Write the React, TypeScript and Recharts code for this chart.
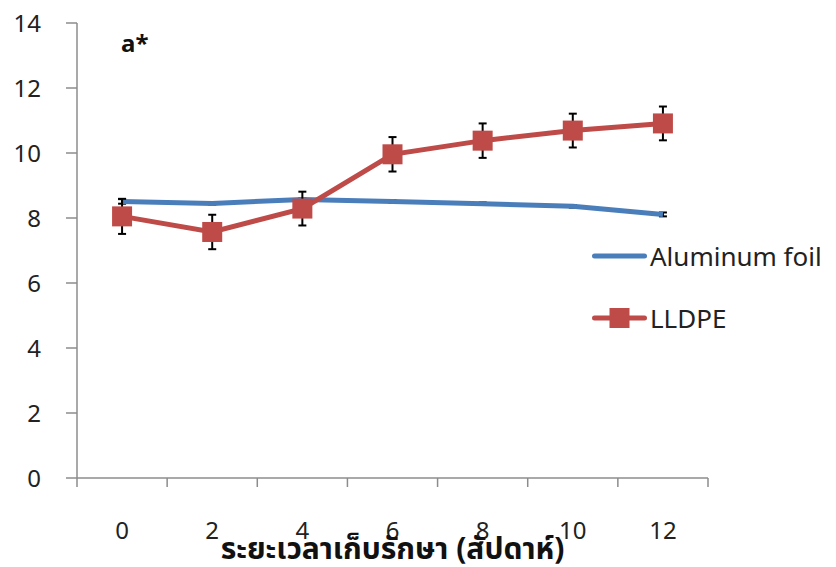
import React from 'react';
import { LineChart, Line, XAxis, YAxis, ErrorBar, Legend } from 'recharts';

const weeks = ['0', '2', '4', '6', '8', '10', '12'];
const aluminumFoil = [8.51, 8.45, 8.57, 8.51, 8.44, 8.36, 8.11];
const aluminumErr = [0.07, 0.04, 0.04, 0.04, 0.04, 0.04, 0.06];
const lldpe = [8.05, 7.57, 8.29, 9.96, 10.38, 10.69, 10.91];
const lldpeErr = [0.54, 0.53, 0.52, 0.53, 0.53, 0.52, 0.52];
const yTicks = [0, 2, 4, 6, 8, 10, 12, 14];

const seriesNames = ['Aluminum foil', 'LLDPE'];
const xTitle = 'ระยะเวลาเก็บรักษา (สัปดาห์)';
const chartTitle = 'a*';

const data = weeks.map((w, i) => ({
  week: w,
  foil: aluminumFoil[i],
  foilErr: aluminumErr[i],
  lldpe: lldpe[i],
  lldpeErr: lldpeErr[i],
}));

const BLUE = '#4A7EBB';
const RED = '#BE4B48';
const AXIS = '#8C8C8C';
const FONT = "'Noto Sans', 'DejaVu Sans', sans-serif";
const X_TICK_SIZE = 9;
const X_TICK_MARGIN = 35;

const XTick = (props: any) => {
  const { x, y, payload, width, visibleTicksCount, index } = props;
  const offset = payload && typeof payload.offset === 'number' && payload.offset > 0
    ? payload.offset
    : width / visibleTicksCount / 2;
  const axisY = y - X_TICK_SIZE - X_TICK_MARGIN;
  return (
    <g>
      <line x1={x - offset} x2={x - offset} y1={axisY} y2={axisY + X_TICK_SIZE} stroke={AXIS} strokeWidth={1.5} />
      {index === visibleTicksCount - 1 && (
        <line x1={x + offset} x2={x + offset} y1={axisY} y2={axisY + X_TICK_SIZE} stroke={AXIS} strokeWidth={1.5} />
      )}
      <text x={x} y={y} dy="0.71em" textAnchor="middle" fontSize={24} fill="#222" fontFamily={FONT}>
        {payload.value}
      </text>
    </g>
  );
};

const SquareDot = (props: any) => {
  const { cx, cy, index } = props;
  if (cx == null || cy == null) return <g key={`d-${index}`} />;
  return <rect key={`d-${index}`} x={cx - 10} y={cy - 10} width={20} height={20} fill={RED} />;
};

const LegendContent = () => (
  <div style={{ fontFamily: FONT, fontSize: 26, color: '#222' }}>
    <div style={{ display: 'flex', alignItems: 'center', height: 62 }}>
      <svg width={60} height={24} style={{ display: 'block' }}>
        <line x1={4.5} x2={54.5} y1={12} y2={12} stroke={BLUE} strokeWidth={5} strokeLinecap="round" />
      </svg>
      <span style={{ whiteSpace: 'nowrap' }}>{seriesNames[0]}</span>
    </div>
    <div style={{ display: 'flex', alignItems: 'center', height: 62 }}>
      <svg width={60} height={24} style={{ display: 'block' }}>
        <line x1={4.5} x2={54.5} y1={12} y2={12} stroke={RED} strokeWidth={5} strokeLinecap="round" />
        <rect x={19.5} y={2} width={20} height={20} fill={RED} />
      </svg>
      <span style={{ whiteSpace: 'nowrap' }}>{seriesNames[1]}</span>
    </div>
  </div>
);

export default function App() {
  return (
    <div style={{ position: 'absolute', left: 0, top: 0, width: 836, height: 567, background: '#fff' }}>
      <LineChart width={836} height={567} data={data} margin={{ top: 23, right: 128, bottom: 0, left: 0 }}>
        <XAxis
          dataKey="week"
          type="category"
          scale="band"
          height={89}
          stroke={AXIS}
          strokeWidth={1.5}
          tickLine={false}
          tickSize={X_TICK_SIZE}
          tickMargin={X_TICK_MARGIN}
          tick={<XTick />}
          interval={0}
          label={{
            value: xTitle,
            position: 'insideBottom',
            offset: 8,
            style: { fontFamily: "'Noto Sans Thai', 'Noto Sans', sans-serif", fontWeight: 700, fontSize: 30, fill: '#111' },
          }}
        />
        <YAxis
          width={77}
          domain={[0, 14]}
          ticks={yTicks}
          stroke={AXIS}
          strokeWidth={1.5}
          tickSize={11}
          tickMargin={25}
          tick={{ fontSize: 24, fill: '#222', fontFamily: FONT }}
          interval={0}
          allowDataOverflow
        />
        <Legend
          layout="horizontal"
          align="center"
          verticalAlign="middle"
          content={<LegendContent />}
          wrapperStyle={{ left: 590, top: 225, width: 246, height: 130 }}
        />
        <Line
          type="linear"
          dataKey="foil"
          name={seriesNames[0]}
          stroke={BLUE}
          strokeWidth={5}
          dot={false}
          activeDot={false}
          isAnimationActive={false}
        >
          <ErrorBar dataKey="foilErr" width={4} stroke="#000" strokeWidth={2} direction="y" isAnimationActive={false} />
        </Line>
        <Line
          type="linear"
          dataKey="lldpe"
          name={seriesNames[1]}
          stroke={RED}
          strokeWidth={5}
          dot={<SquareDot />}
          activeDot={false}
          isAnimationActive={false}
        >
          <ErrorBar dataKey="lldpeErr" width={4} stroke="#000" strokeWidth={2} direction="y" isAnimationActive={false} />
        </Line>
      </LineChart>
      <svg width={836} height={567} style={{ position: 'absolute', left: 0, top: 0, pointerEvents: 'none' }}>
        <text x={121} y={51.5} fontFamily={FONT} fontWeight={700} fontSize={24} fill="#111">{chartTitle}</text>
      </svg>
    </div>
  );
}
